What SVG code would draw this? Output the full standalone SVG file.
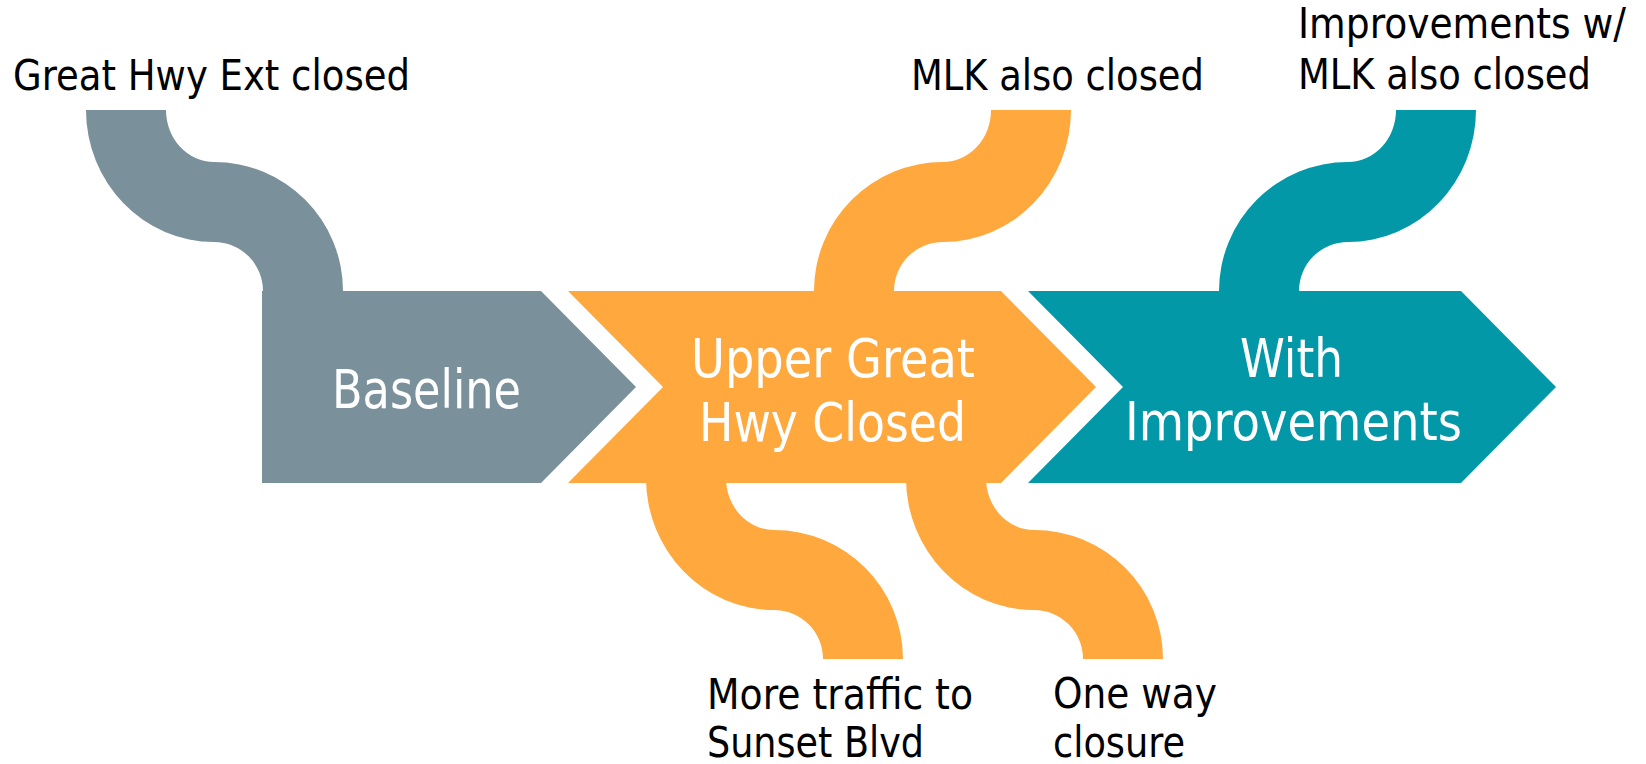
<svg xmlns="http://www.w3.org/2000/svg" xmlns:xlink="http://www.w3.org/1999/xlink" width="1646" height="764" viewBox="0 0 1646 764">
  <style>
    .lbl { font-family: "DejaVu Sans Condensed", "DejaVu Sans", sans-serif; font-size: 42px; fill: #000000; }
    .in { font-family: "DejaVu Sans Condensed", "DejaVu Sans", sans-serif; font-size: 53px; fill: #ffffff; }
    .gray { fill: #7A909B; }
    .orange { fill: #FEA83E; }
    .teal { fill: #0398A8; }
  </style>
  <defs>
    <path id="sband" d="M86,110 L166,110 A48,52 0 0 0 214,162 A129,129 0 0 1 343,291 L263,291 A49,49 0 0 0 214,242 A128,132 0 0 1 86,110 Z"/>
  </defs>
  <rect width="1646" height="764" fill="#ffffff"/>

  <g id="connectors">
    <use xlink:href="#sband" href="#sband" class="gray"/>
    <use xlink:href="#sband" href="#sband" class="orange" transform="translate(1157,0) scale(-1,1)"/>
    <use xlink:href="#sband" href="#sband" class="teal" transform="translate(1562,0) scale(-1,1)"/>
    <use xlink:href="#sband" href="#sband" class="orange" transform="translate(560,368)"/>
    <use xlink:href="#sband" href="#sband" class="orange" transform="translate(820,368)"/>
  </g>

  <g id="baseline">
    <polygon class="gray" points="262,291 541,291 636,387 541,483 262,483"/>
    <text class="in" x="332" y="408" textLength="189" lengthAdjust="spacingAndGlyphs">Baseline</text>
  </g>

  <g id="upper-great-hwy-closed">
    <polygon class="orange" points="568,291 1001,291 1096,387 1001,483 568,483 663,387"/>
    <text class="in" x="691" y="377" textLength="284" lengthAdjust="spacingAndGlyphs">Upper Great</text>
    <text class="in" x="699" y="441" textLength="267" lengthAdjust="spacingAndGlyphs">Hwy Closed</text>
  </g>

  <g id="with-improvements">
    <polygon class="teal" points="1028,291 1461,291 1556,387 1461,483 1028,483 1123,387"/>
    <text class="in" x="1240" y="377" textLength="103" lengthAdjust="spacingAndGlyphs">With</text>
    <text class="in" x="1125" y="440" textLength="337" lengthAdjust="spacingAndGlyphs">Improvements</text>
  </g>

  <g id="label-great-hwy-ext">
    <text class="lbl" x="13" y="90" textLength="397" lengthAdjust="spacingAndGlyphs">Great Hwy Ext closed</text>
  </g>
  <g id="label-mlk">
    <text class="lbl" x="911" y="90" textLength="293" lengthAdjust="spacingAndGlyphs">MLK also closed</text>
  </g>
  <g id="label-improvements-mlk">
    <text class="lbl" x="1298" y="38" textLength="328" lengthAdjust="spacingAndGlyphs">Improvements w/</text>
    <text class="lbl" x="1298" y="89" textLength="293" lengthAdjust="spacingAndGlyphs">MLK also closed</text>
  </g>
  <g id="label-sunset">
    <text class="lbl" x="707" y="709" textLength="266" lengthAdjust="spacingAndGlyphs">More traffic to</text>
    <text class="lbl" x="707" y="757" textLength="217" lengthAdjust="spacingAndGlyphs">Sunset Blvd</text>
  </g>
  <g id="label-one-way">
    <text class="lbl" x="1053" y="708" textLength="164" lengthAdjust="spacingAndGlyphs">One way</text>
    <text class="lbl" x="1053" y="757" textLength="132" lengthAdjust="spacingAndGlyphs">closure</text>
  </g>
</svg>
